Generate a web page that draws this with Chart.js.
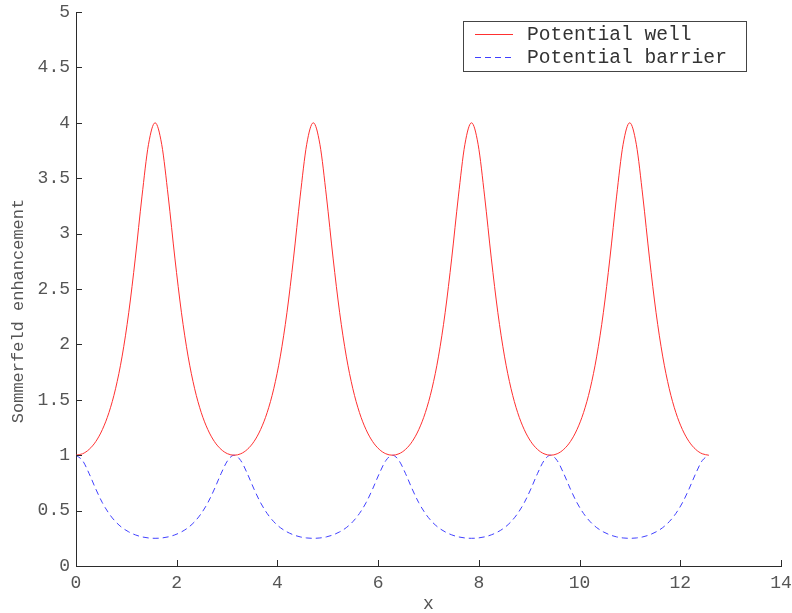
<!DOCTYPE html>
<html>
<head>
<meta charset="utf-8">
<script src="https://cdn.jsdelivr.net/npm/chart.js@4/dist/chart.umd.min.js"></script>
<style>
  html, body { margin: 0; padding: 0; background: #fff; }
  #wrap { width: 792px; height: 613px; }
</style>
</head>
<body>
<div id="wrap"><canvas id="chart" width="792" height="613"></canvas></div>
<script>
// sample positions, 0 .. 4*pi
const xs = [0, 0.1309, 0.2618, 0.3927, 0.5236, 0.6545, 0.7854, 0.9163, 1.0472, 1.1781, 1.3090, 1.4399,
  1.5708, 1.7017, 1.8326, 1.9635, 2.0944, 2.2253, 2.3562, 2.4871, 2.6180, 2.7489, 2.8798, 3.0107,
  3.1416, 3.2725, 3.4034, 3.5343, 3.6652, 3.7961, 3.9270, 4.0579, 4.1888, 4.3197, 4.4506, 4.5815,
  4.7124, 4.8433, 4.9742, 5.1051, 5.2360, 5.3669, 5.4978, 5.6287, 5.7596, 5.8905, 6.0214, 6.1523,
  6.2832, 6.4141, 6.5450, 6.6759, 6.8068, 6.9377, 7.0686, 7.1995, 7.3304, 7.4613, 7.5922, 7.7231,
  7.8540, 7.9849, 8.1158, 8.2467, 8.3776, 8.5085, 8.6394, 8.7703, 8.9012, 9.0321, 9.1630, 9.2939,
  9.4248, 9.5557, 9.6866, 9.8175, 9.9484, 10.0793, 10.2102, 10.3411, 10.4720, 10.6029, 10.7338, 10.8647,
  10.9956, 11.1265, 11.2574, 11.3883, 11.5192, 11.6501, 11.7810, 11.9119, 12.0428, 12.1737, 12.3046, 12.4355,
  12.5664]

const well = [1, 1.013, 1.053, 1.123, 1.231, 1.385, 1.600, 1.894, 2.286, 2.779, 3.331, 3.806,
  4, 3.806, 3.331, 2.779, 2.286, 1.894, 1.600, 1.385, 1.231, 1.123, 1.053, 1.013,
  1, 1.013, 1.053, 1.123, 1.231, 1.385, 1.600, 1.894, 2.286, 2.779, 3.331, 3.806,
  4, 3.806, 3.331, 2.779, 2.286, 1.894, 1.600, 1.385, 1.231, 1.123, 1.053, 1.013,
  1, 1.013, 1.053, 1.123, 1.231, 1.385, 1.600, 1.894, 2.286, 2.779, 3.331, 3.806,
  4, 3.806, 3.331, 2.779, 2.286, 1.894, 1.600, 1.385, 1.231, 1.123, 1.053, 1.013,
  1, 1.013, 1.053, 1.123, 1.231, 1.385, 1.600, 1.894, 2.286, 2.779, 3.331, 3.806,
  4, 3.806, 3.331, 2.779, 2.286, 1.894, 1.600, 1.385, 1.231, 1.123, 1.053, 1.013,
  1]

const barrier = [1, 0.951, 0.833, 0.695, 0.571, 0.474, 0.400, 0.346, 0.308, 0.281, 0.263, 0.253,
  0.25, 0.253, 0.263, 0.281, 0.308, 0.346, 0.400, 0.474, 0.571, 0.695, 0.833, 0.951,
  1, 0.951, 0.833, 0.695, 0.571, 0.474, 0.400, 0.346, 0.308, 0.281, 0.263, 0.253,
  0.25, 0.253, 0.263, 0.281, 0.308, 0.346, 0.400, 0.474, 0.571, 0.695, 0.833, 0.951,
  1, 0.951, 0.833, 0.695, 0.571, 0.474, 0.400, 0.346, 0.308, 0.281, 0.263, 0.253,
  0.25, 0.253, 0.263, 0.281, 0.308, 0.346, 0.400, 0.474, 0.571, 0.695, 0.833, 0.951,
  1, 0.951, 0.833, 0.695, 0.571, 0.474, 0.400, 0.346, 0.308, 0.281, 0.263, 0.253,
  0.25, 0.253, 0.263, 0.281, 0.308, 0.346, 0.400, 0.474, 0.571, 0.695, 0.833, 0.951,
  1]

const seriesNames = ['Potential well', 'Potential barrier']
const xTicks = [0, 2, 4, 6, 8, 10, 12, 14]
const yTicks = [0, 0.5, 1, 1.5, 2, 2.5, 3, 3.5, 4, 4.5, 5]
const xTitle = 'x'
const yTitle = 'Sommerfeld enhancement'

const FONT = '"Liberation Mono", "DejaVu Sans Mono", monospace'
const AXIS_COLOR = '#2b2b2b'
const TEXT_COLOR = '#555'

function toPoints(ys) {
    return xs.map((x, i) => ({x: x, y: ys[i]}))
}

// ticks pointing into the plot, titles and a boxed legend
const decorations = {
    id: 'decorations',
    afterDraw(chart) {
        const ctx = chart.ctx
        const area = chart.chartArea
        const sx = chart.scales.x
        const sy = chart.scales.y
        ctx.save()
        ctx.strokeStyle = AXIS_COLOR
        ctx.lineWidth = 1
        ctx.beginPath()
        for (const t of xTicks) {
            const px = Math.round(sx.getPixelForValue(t)) + 0.5
            ctx.moveTo(px, area.bottom)
            ctx.lineTo(px, area.bottom - 6)
        }
        for (const t of yTicks) {
            const py = Math.round(sy.getPixelForValue(t)) + 0.5
            ctx.moveTo(area.left, py)
            ctx.lineTo(area.left + 6, py)
        }
        ctx.stroke()

        // axis titles
        ctx.fillStyle = TEXT_COLOR
        ctx.font = '18px ' + FONT
        ctx.textAlign = 'center'
        ctx.textBaseline = 'middle'
        ctx.fillText(xTitle, (area.left + area.right) / 2, 604)
        ctx.save()
        ctx.translate(18, 311)
        ctx.rotate(-Math.PI / 2)
        ctx.font = '17px ' + FONT
        ctx.fillText(yTitle, 0, 0)
        ctx.restore()

        // legend box
        const bx = 463, by = 21, bw = 283, bh = 50
        ctx.fillStyle = '#fff'
        ctx.fillRect(bx, by, bw, bh)
        ctx.strokeStyle = '#444'
        ctx.strokeRect(bx + 0.5, by + 0.5, bw, bh)
        chart.data.datasets.forEach((ds, i) => {
            const ly = by + 13 + i * 23
            ctx.strokeStyle = ds.borderColor
            ctx.setLineDash(ds.borderDash || [])
            ctx.beginPath()
            ctx.moveTo(bx + 12, ly + 0.5)
            ctx.lineTo(bx + 50, ly + 0.5)
            ctx.stroke()
            ctx.setLineDash([])
            ctx.fillStyle = '#333'
            ctx.textAlign = 'left'
            ctx.font = '19.6px ' + FONT
            ctx.fillText(ds.label, bx + 64, ly + 1)
        })
        ctx.restore()
    }
}

new Chart(document.getElementById('chart'), {
    type: 'scatter',
    data: {
        datasets: [
            {
                label: seriesNames[0],
                data: toPoints(well),
                showLine: true,
                borderColor: '#ff3030',
                borderWidth: 1,
                pointRadius: 0,
                cubicInterpolationMode: 'monotone'
            },
            {
                label: seriesNames[1],
                data: toPoints(barrier),
                showLine: true,
                borderColor: '#4040ff',
                borderDash: [6, 4],
                borderWidth: 1,
                pointRadius: 0,
                cubicInterpolationMode: 'monotone'
            }
        ]
    },
    options: {
        responsive: false,
        animation: false,
        layout: {padding: {left: 0, top: 12, right: 11, bottom: 0}},
        plugins: {
            legend: {display: false},
            tooltip: {enabled: false}
        },
        scales: {
            x: {
                type: 'linear',
                min: 0,
                max: 14,
                afterFit: (s) => { s.height = 47; s.paddingLeft = 0; s.paddingRight = 0 },
                afterBuildTicks: (s) => { s.ticks = xTicks.map(v => ({value: v})) },
                grid: {display: false, drawTicks: false},
                border: {display: true, color: AXIS_COLOR, width: 1},
                ticks: {color: TEXT_COLOR, font: {family: FONT, size: 18}, padding: 6, maxRotation: 0}
            },
            y: {
                type: 'linear',
                min: 0,
                max: 5,
                afterFit: (s) => { s.width = 76; s.paddingTop = 0; s.paddingBottom = 0 },
                afterBuildTicks: (s) => { s.ticks = yTicks.map(v => ({value: v})) },
                grid: {display: false, drawTicks: false},
                border: {display: true, color: AXIS_COLOR, width: 1},
                ticks: {color: TEXT_COLOR, font: {family: FONT, size: 18}, padding: 6,
                    callback: (v) => String(v)}
            }
        }
    },
    plugins: [decorations]
})
</script>
</body>
</html>
